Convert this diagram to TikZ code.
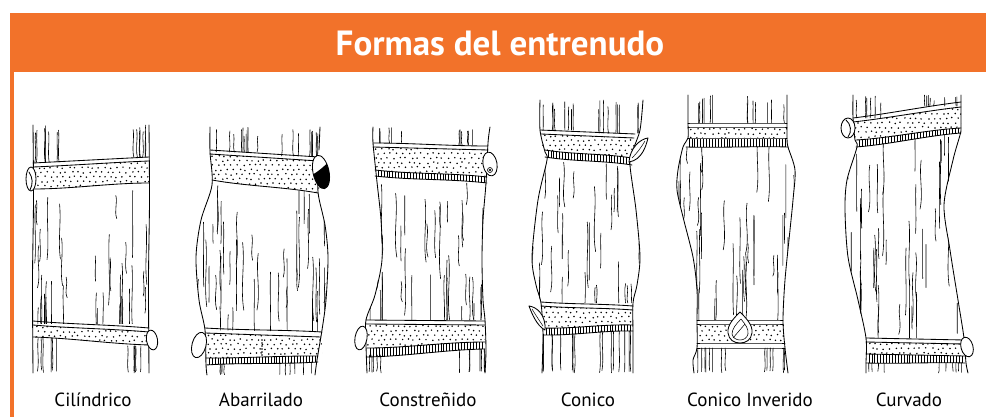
\documentclass[tikz,border=0pt]{standalone}
\usepackage{fontspec}
\setmainfont{PT Sans}
\definecolor{orng}{RGB}{242,114,42}
\tikzset{
  ln/.style={line width=0.85pt, line join=round, line cap=round},
  grain/.style={line width=0.6pt, line cap=round},
  hl/.style={line width=0.5pt},
  bud/.style={ln, fill=white},
  lab/.style={font=\fontsize{19}{21}\selectfont, anchor=base},
}
% wavy line: xl yl xr yr w
\newcommand\wline[5]{\draw[ln] (#1,#2) .. controls ({#1+(#3-#1)/3},{#2+(#4-#2)/3+(#5)}) and ({#1+2*(#3-#1)/3},{#2+2*(#4-#2)/3-(#5)}) .. (#3,#4);}
% dotted band: xl xr ytl ytr ybl ybr wt wb n(unused)
\newcommand\dotband[9]{%
 \begin{scope}
 \clip (#1,#3) .. controls ({#1+(#2-#1)/3},{#3+(#4-#3)/3+(#7)}) and ({#1+2*(#2-#1)/3},{#3+2*(#4-#3)/3-(#7)}) .. (#2,#4)
   -- (#2,#6) .. controls ({#1+2*(#2-#1)/3},{#5+2*(#6-#5)/3-(#8)}) and ({#1+(#2-#1)/3},{#5+(#6-#5)/3+(#8)}) .. (#1,#5) -- cycle;
 \fill[white] ({#1-1},{min(#3,#4)-6}) rectangle ({#2+1},{max(#5,#6)+6});
 \pgfmathsetmacro\dbY{min(#3,#4)}%
 \pgfmathtruncatemacro\dbNx{(#2-#1)/6}%
 \pgfmathtruncatemacro\dbNy{(max(#5,#6)-\dbY)/4.6+1}%
 \foreach \dx in {0,...,\dbNx}{\foreach \dy in {0,...,\dbNy}{%
   \fill ({#1+3+\dx*6+mod(\dy,2)*3+(rnd-0.5)*2.4},{\dbY+2+\dy*4.6+(rnd-0.5)*1.6}) circle[radius=0.85];}}
 \end{scope}}
% hatched strip: xl xr y1l y1r y2l y2r w1 w2
\newcommand\hatchband[8]{%
 \pgfmathtruncatemacro\hbN{(#2-#1)/3}%
 \foreach \i in {1,...,\hbN}{%
   \pgfmathsetmacro\hbT{\i/(\hbN+1)}%
   \draw[hl] ({#1+\hbT*(#2-#1)},{#3+\hbT*(#4-#3)+3*\hbT*(1-\hbT)*(1-2*\hbT)*(#7)}) -- ({#1+\hbT*(#2-#1)},{#5+\hbT*(#6-#5)+3*\hbT*(1-\hbT)*(1-2*\hbT)*(#8)});}%
 \wline{#1}{#5}{#2}{#6}{#8}}
% stubs: n xl xr yt yb jitterTop jitterBottom
\newcommand\stubs[7]{\foreach \k in {1,...,#1}{%
 \pgfmathsetmacro\stX{#2+rnd*(#3-#2)}%
 \pgfmathsetmacro\stA{#4+rnd*(#6)}%
 \pgfmathsetmacro\stB{#5-rnd*(#7)}%
 \pgfmathsetmacro\stW{(rnd-0.5)*3}%
 \draw[grain] (\stX,\stA) .. controls ({\stX+\stW},{\stA+(\stB-\stA)/3}) and ({\stX-\stW},{\stA+2*(\stB-\stA)/3}) .. ({\stX+\stW/2},\stB);}}
% grains: n xl xr yt yb
\newcommand\grains[5]{\foreach \k in {1,...,#1}{%
 \pgfmathsetmacro\grX{#2+rnd*(#3-#2)}%
 \pgfmathsetmacro\grY{#4-10+rnd*(#5-#4)}%
 \pgfmathsetmacro\grL{18+rnd*55}%
 \pgfmathsetmacro\grW{(rnd-0.5)*5}%
 \draw[grain] (\grX,\grY) .. controls ({\grX+\grW},{\grY+\grL/3}) and ({\grX-\grW},{\grY+2*\grL/3}) .. ({\grX+\grW/2},{\grY+\grL});}}
\begin{document}
\begin{tikzpicture}[x=1pt,y=-1pt]
\pgfmathsetseed{12}
\useasboundingbox (0,0) rectangle (986,417);
\fill[white] (0,0) rectangle (986,417);
% header
\fill[orng] (10,13) rectangle (986,72);
\fill[orng] (10,72) rectangle (14,417);
\node[text=white, font=\bfseries\fontsize{35}{36}\selectfont, anchor=base] (title) at (500,56) {Formas del entrenudo};

% ================= 1 Cilindrico
\stubs{8}{35}{62}{125}{162}{8}{0}
\stubs{7}{127}{147}{125}{157}{8}{0}
\begin{scope}
 \clip (33,186) rectangle (149,323);
 \grains{16}{35}{68}{186}{320}
 \grains{16}{108}{147}{186}{320}
 \grains{4}{70}{105}{230}{320}
\end{scope}
\stubs{6}{36}{62}{338}{373}{0}{3}
\stubs{6}{126}{147}{346}{373}{0}{3}
\dotband{33}{149}{167}{161}{189}{183}{0.5}{2}{55}
\wline{33}{163}{149}{157}{0}
\wline{33}{167}{149}{161}{0.5}
\wline{33}{189}{149}{183}{2}
\dotband{33}{149}{325}{332}{337}{345}{1}{-1.5}{45}
\wline{33}{321}{149}{328}{1}
\wline{33}{325}{149}{332}{1}
\wline{33}{337}{149}{345}{-1.5}
\draw[ln] plot[smooth] coordinates {(33,125)(33.5,200)(32.5,280)(33,373)};
\draw[ln] plot[smooth] coordinates {(149,125)(149.5,200)(148.5,280)(149,373)};
\draw[bud] (31,179) ellipse [x radius=5, y radius=12];
\draw[ln] (29,172) .. controls (33,178) and (33,184) .. (30,190);
\draw[bud, rotate around={10:(152,340)}] (152,340) ellipse [x radius=5.5, y radius=10];
\node[lab] (l1) at (93,406) {Cilíndrico};

% ================= 2 Abarrilado
\stubs{10}{212}{265}{127}{152}{10}{0}
\stubs{10}{280}{318}{127}{156}{10}{0}
\begin{scope}
 \clip (212,185)--(201,220)--(196,257)--(199,300)--(205,330)--(322,332)--(326,300)--(328,257)--(325,225)--(318,192)--cycle;
 \grains{18}{198}{238}{185}{325}
 \grains{18}{282}{327}{190}{325}
 \grains{6}{238}{282}{240}{320}
\end{scope}
\stubs{4}{208}{225}{364}{375}{0}{2}
\stubs{6}{270}{313}{362}{375}{0}{2}
\dotband{210}{319}{154}{161}{180}{193}{0}{2}{60}
\wline{210}{150}{319}{157}{0}
\wline{210}{154}{319}{161}{0}
\wline{212}{180}{318}{193}{2}
\dotband{205}{322}{333}{337}{358}{356}{0}{1}{55}
\wline{205}{328}{322}{332}{1}
\wline{205}{333}{321}{337}{0}
\wline{206}{358}{318}{356}{1}
\hatchband{206}{318}{358}{356}{365}{362}{1}{-1.5}
\foreach \k in {0,...,5}{\fill (262,{340+\k*3}) circle[radius=0.8];}
\draw[ln] plot[smooth] coordinates {(210,127)(210,152)(212,185)(201,220)(196,257)(199,300)(205,330)(206,365)(207,375)};
\draw[ln] (320,127) -- (319,150);
\draw[ln] plot[smooth] coordinates {(319,157)(318,192)(325,225)(328,257)(326,300)(322,330)(317,360)(315,375)};
\draw[bud, rotate around={12:(321,172)}] (321,172) ellipse [x radius=8, y radius=17];
\begin{scope}
 \clip[rotate around={12:(321,172)}] (321,172) ellipse [x radius=8, y radius=17];
 \fill (310,176) .. controls (318,172) and (325,166) .. (332,158) -- (334,195) -- (308,195) -- cycle;
\end{scope}
\draw[bud, rotate around={-15:(199,345)}] (199,345) ellipse [x radius=7, y radius=13];
\node[lab] (l2) at (261,406) {Abarrilado};

% ================= 3 Constrenido
\stubs{6}{375}{402}{127}{143}{6}{0}
\stubs{6}{455}{487}{127}{145}{6}{0}
\begin{scope}
 \clip (377,182)--(381,220)--(382,260)--(375,295)--(366,320)--(485,320)--(483,300)--(482,260)--(483,220)--(486,183)--cycle;
 \grains{15}{370}{420}{183}{318}
 \grains{18}{440}{486}{183}{318}
 \grains{6}{420}{440}{190}{310}
\end{scope}
\stubs{5}{367}{385}{355}{373}{0}{2}
\stubs{7}{455}{485}{349}{373}{0}{2}
\dotband{373}{488}{147}{150}{170}{177}{0}{2}{60}
\wline{373}{143}{488}{146}{-1}
\wline{373}{147}{488}{150}{0}
\wline{375}{170}{487}{177}{2}
\hatchband{375}{487}{170}{177}{176}{183}{2}{2}
\dotband{366}{485}{324}{325}{348}{342}{0}{2}{60}
\wline{366}{320}{485}{321}{0}
\wline{366}{324}{485}{325}{0}
\wline{367}{348}{485}{342}{2}
\hatchband{367}{485}{348}{342}{357}{349}{2}{2}
\draw[ln] plot[smooth] coordinates {(373,127)(373,143)(377,182)(381,220)(382,260)(375,295)(366,320)(366,345)(367,373)};
\draw[ln] plot[smooth] coordinates {(490,127)(488,143)(486,183)(483,220)(482,260)(483,300)(485,320)(486,350)(485,373)};
\draw[bud, rotate around={10:(490,164)}] (490,164) ellipse [x radius=7, y radius=12];
\draw[line width=0.6pt] (490,170) circle[radius=2.5];
\draw[line width=0.6pt] (490,170) circle[radius=1];
\draw[bud, rotate around={-10:(361,338)}] (361,338) ellipse [x radius=6, y radius=12];
\node[lab] (l3) at (428,406) {Constreñido};

% ================= 4 Conico
\stubs{8}{542}{575}{100}{130}{10}{0}
\stubs{9}{598}{640}{100}{133}{10}{0}
\begin{scope}
 \clip (547,160)--(538,200)--(532,257)--(536,285)--(541,303)--(633,303)--(637,285)--(640,257)--(636,210)--(630,165)--cycle;
 \grains{14}{533}{570}{162}{300}
 \grains{13}{595}{640}{165}{300}
 \grains{5}{570}{595}{180}{290}
\end{scope}
\stubs{8}{543}{575}{334}{373}{0}{3}
\stubs{8}{598}{632}{331}{373}{0}{3}
\dotband{541}{634}{134}{138}{150}{158}{0}{2}{50}
\wline{540}{130}{635}{134}{0}
\wline{541}{134}{634}{138}{0}
\wline{545}{150}{632}{158}{2}
\hatchband{545}{632}{150}{158}{157}{165}{2}{2}
\dotband{541}{633}{306}{310}{328}{325}{1}{2}{50}
\wline{541}{302}{633}{306}{1}
\wline{541}{306}{633}{310}{1}
\wline{543}{328}{633}{325}{2}
\hatchband{543}{633}{328}{325}{335}{331}{2}{2}
\draw[ln] plot[smooth] coordinates {(540,100)(540,130)(545,152)(547,160)(538,200)(532,257)(536,285)(541,303)(543,335)(542,373)};
\draw[ln] plot[smooth] coordinates {(643,100)(640,130)(633,150)(630,165)(636,210)(640,257)(637,285)(633,303)(633,335)(633,373)};
\draw[bud] (629,162) .. controls (642,160) and (646,146) .. (648,138) .. controls (640,139) and (630,148) .. (629,162) -- cycle;
\draw[line width=0.5pt] (632,158) .. controls (638,152) and (642,146) .. (645,141);
\draw[bud] (545,330) .. controls (537,326) and (532,314) .. (529,306) .. controls (537,307) and (546,315) .. (545,330) -- cycle;
\draw[line width=0.5pt] (543,326) .. controls (539,320) and (535,314) .. (532,309);
\node[lab] (l4) at (588,406) {Conico};

% ================= 5 Conico Inverido
\stubs{7}{690}{722}{95}{123}{10}{0}
\stubs{7}{745}{785}{95}{123}{10}{0}
\begin{scope}
 \clip (683,147)--(678,170)--(677,190)--(683,217)--(693,257)--(697,290)--(697,320)--(783,320)--(785,280)--(790,230)--(793,200)--(795,170)--(788,147)--cycle;
 \grains{22}{676}{725}{148}{318}
 \grains{16}{745}{795}{148}{318}
 \grains{6}{722}{748}{190}{310}
\end{scope}
\stubs{8}{695}{730}{348}{373}{0}{3}
\stubs{6}{760}{786}{348}{373}{0}{3}
\dotband{688}{787}{127}{127}{138}{138}{0}{0}{45}
\wline{688}{123}{787}{123}{0}
\wline{688}{127}{787}{127}{0}
\wline{688}{138}{787}{138}{0}
\hatchband{686}{788}{139}{139}{147}{147}{0}{1}
\dotband{697}{784}{324}{324}{342}{342}{0}{0}{40}
\wline{697}{320}{783}{320}{0}
\wline{697}{324}{783}{324}{0}
\wline{697}{343}{785}{343}{0}
\wline{697}{348}{785}{348}{0}
\draw[ln] plot[smooth] coordinates {(688,95)(688,123)(688,138)(683,147)(678,170)(677,190)(683,217)(693,257)(697,290)(697,320)(697,348)(693,360)(694,373)};
\draw[ln] plot[smooth] coordinates {(787,95)(787,123)(787,138)(788,147)(795,170)(793,200)(790,230)(785,280)(783,320)(785,348)(788,373)};
\draw[bud] (740,312) .. controls (746,318) and (753,325) .. (752,333) .. controls (751,340) and (746,343) .. (740,343) .. controls (734,343) and (729,340) .. (728,333) .. controls (727,325) and (734,318) .. (740,312) -- cycle;
\draw[line width=0.55pt] (741,319) .. controls (745,324) and (749,329) .. (748,334) .. controls (747,338) and (744,340) .. (740,340) .. controls (736,340) and (733,338) .. (732,334) .. controls (732,329) and (736,324) .. (741,319);
\draw[line width=0.5pt] (733,338) -- (745,324);
\node[lab] (l5) at (750,406) {Conico Inverido};

% ================= 6 Curvado
\stubs{6}{855}{882}{95}{118}{8}{0}
\stubs{8}{922}{960}{95}{106}{6}{0}
\begin{scope}
 \clip (857,147)--(847,180)--(845,210)--(848,257)--(858,300)--(866,338)--(964,338)--(958,300)--(950,250)--(944,205)--(953,160)--(960,133)--cycle;
 \grains{24}{845}{902}{145}{335}
 \grains{22}{905}{962}{135}{335}
\end{scope}
\stubs{4}{868}{890}{363}{373}{0}{2}
\stubs{6}{935}{966}{363}{373}{0}{2}
\dotband{853}{961}{122}{107}{140}{128}{1}{2}{55}
\wline{853}{118}{961}{102}{1}
\wline{853}{122}{961}{107}{1}
\wline{856}{140}{961}{128}{2}
\hatchband{856}{961}{140}{128}{147}{133}{2}{2}
\dotband{866}{964}{342}{344}{354}{356}{0}{0}{40}
\wline{866}{338}{964}{340}{0}
\wline{866}{342}{964}{344}{0}
\wline{866}{354}{965}{356}{0}
\hatchband{866}{965}{354}{356}{363}{363}{0}{1}
\draw[ln] plot[smooth] coordinates {(853,95)(853,118)(855,140)(857,147)(847,180)(845,210)(848,257)(858,300)(866,338)(866,363)(866,373)};
\draw[ln] plot[smooth] coordinates {(961,95)(961,102)(961,128)(960,135)(953,160)(944,205)(950,250)(958,300)(964,338)(966,363)(968,373)};
\draw[bud] (848,128) ellipse [x radius=7, y radius=10];
\draw[ln] (846,120) .. controls (851,124) and (852,132) .. (848,137);
\draw[bud, rotate around={15:(967,347)}] (967,347) ellipse [x radius=6, y radius=10];
\node[lab] (l6) at (909,406) {Curvado};
\end{tikzpicture}
\end{document}
